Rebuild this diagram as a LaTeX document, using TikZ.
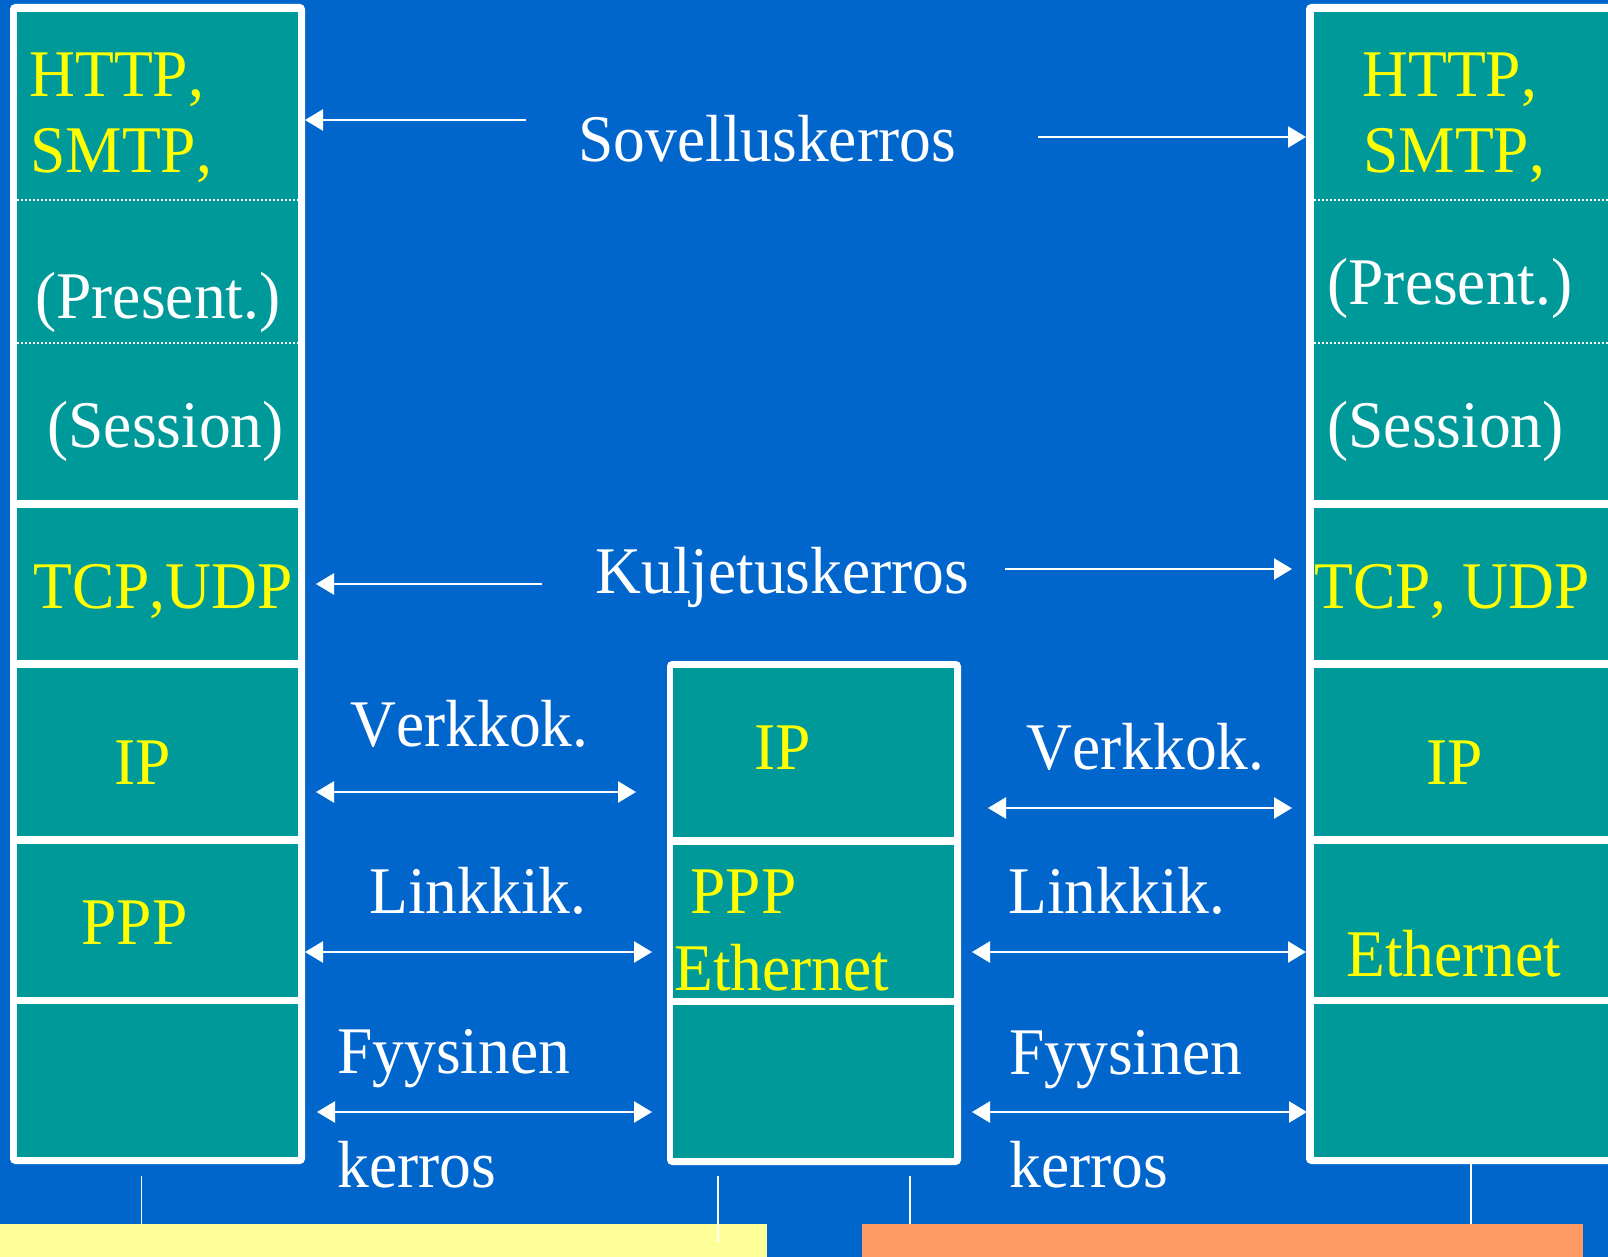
\documentclass[tikz,border=0pt]{standalone}
\usepackage{fontspec}
\setmainfont[Kerning=Off]{Liberation Serif}
\usetikzlibrary{arrows.meta}
\definecolor{bgblue}{RGB}{0,102,204}
\definecolor{tealc}{RGB}{0,153,153}
\definecolor{ylw}{RGB}{255,255,0}
\definecolor{barY}{RGB}{255,255,153}
\definecolor{barO}{RGB}{255,153,102}
\newcommand\tx[1]{\scalebox{1}[1.05]{#1}}
\begin{document}
\begin{tikzpicture}[x=0.5pt,y=-0.5pt,
  outerbox/.style={fill=white, rounded corners=2.5pt, inner sep=0pt, outer sep=0pt, anchor=north west},
  cell/.style={fill=tealc, inner sep=0pt, outer sep=0pt, anchor=north west},
  lbl/.style={font=\fontsize{31.75}{38}\selectfont, inner sep=0pt, anchor=base west, text=white},
  ylbl/.style={lbl, text=ylw},
  arr/.style={white, line width=1.25pt, -{Triangle[length=9pt,width=10.5pt]}},
  darr/.style={white, line width=1.25pt, {Triangle[length=9pt,width=10.5pt]}-{Triangle[length=9pt,width=10.5pt]}},
  tick/.style={white, line width=0.75pt},
  sep/.style={white, line width=0.6pt, dash pattern=on 1pt off 1pt}]
\useasboundingbox (0,0) rectangle (1608,1257);
\begin{scope}
\clip (0,0) rectangle (1608,1257);
\fill[bgblue] (0,0) rectangle (1608,1257);

% outer stacks
\node[outerbox, minimum width=147.5pt, minimum height=580pt] (Lbox) at (10,4) {};
\node[outerbox, minimum width=147pt, minimum height=252pt] (Mbox) at (667,661) {};
\node[outerbox, minimum width=160pt, minimum height=580pt] (Rbox) at (1306,4) {};

% left cells
\node[cell, minimum width=140.5pt, minimum height=244pt] (Lapp) at (17,12) {};
\node[cell, minimum width=140.5pt, minimum height=76pt] (Ltcp) at (17,508) {};
\node[cell, minimum width=140.5pt, minimum height=84pt] (Lip) at (17,668) {};
\node[cell, minimum width=140.5pt, minimum height=76.5pt] (Lppp) at (17,844) {};
\node[cell, minimum width=140.5pt, minimum height=76.5pt] (Lphy) at (17,1004) {};
% middle cells
\node[cell, minimum width=140.5pt, minimum height=84.5pt] (Mip) at (673,668) {};
\node[cell, minimum width=140.5pt, minimum height=76.5pt] (Mppp) at (673,845) {};
\node[cell, minimum width=140.5pt, minimum height=76.5pt] (Mphy) at (673,1005) {};
% right cells
\node[cell, minimum width=155pt, minimum height=244pt] (Rapp) at (1314,12) {};
\node[cell, minimum width=155pt, minimum height=76pt] (Rtcp) at (1314,508) {};
\node[cell, minimum width=155pt, minimum height=84pt] (Rip) at (1314,668) {};
\node[cell, minimum width=155pt, minimum height=76.5pt] (Rppp) at (1314,844) {};
\node[cell, minimum width=155pt, minimum height=76.5pt] (Rphy) at (1314,1004) {};

% dotted separators in application cells
\draw[sep] (17,200) -- (298,200);
\draw[sep] (17,343) -- (298,343);
\draw[sep] (1314,200) -- (1620,200);
\draw[sep] (1314,343) -- (1620,343);

% texts in cells
\node[ylbl] (t1) at (29,97) {\tx{HTTP,}};
\node[ylbl] (t2) at (30,173) {\tx{SMTP,}};
\node[lbl] (t3) at (35,319) {\tx{(Present.)}};
\node[lbl] (t4) at (47,448) {\tx{(Session)}};
\node[ylbl] (t5) at (33,608) {\tx{TCP,UDP}};
\node[ylbl] (t6) at (114,784) {\tx{IP}};
\node[ylbl] (t7) at (81,944) {\tx{PPP}};

\node[ylbl] (t8) at (754,769) {\tx{IP}};
\node[ylbl] (t9) at (690,913) {\tx{PPP}};
\node[ylbl] (t10) at (674,990) {\tx{Ethernet}};

\node[ylbl] (t11) at (1362,97) {\tx{HTTP,}};
\node[ylbl] (t12) at (1363,173) {\tx{SMTP,}};
\node[lbl] (t13) at (1327,305) {\tx{(Present.)}};
\node[lbl] (t14) at (1327,448) {\tx{(Session)}};
\node[ylbl] (t15) at (1314,608) {\tx{TCP, UDP}};
\node[ylbl] (t16) at (1426,784) {\tx{IP}};
\node[ylbl] (t17) at (1346,976) {\tx{Ethernet}};

% layer labels
\node[lbl] (sov) at (578,162) {\tx{Sovelluskerros}};
\node[lbl] (kul) at (595,593) {\tx{Kuljetuskerros}};
\node[lbl] (verL) at (350,746) {\tx{Verkkok.}};
\node[lbl] (verR) at (1026,769) {\tx{Verkkok.}};
\node[lbl] (linL) at (369,913) {\tx{Linkkik.}};
\node[lbl] (linR) at (1008,913) {\tx{Linkkik.}};
\node[lbl] (fyL) at (337,1073) {\tx{Fyysinen}};
\node[lbl] (fyR) at (1009,1074) {\tx{Fyysinen}};
\node[lbl] (keL) at (337,1187) {\tx{kerros}};
\node[lbl] (keR) at (1009,1187) {\tx{kerros}};

% arrow end points
\coordinate (sovA) at (526,120);
\coordinate (sovB) at (1038,137);
\coordinate (kulA) at (542,584);
\coordinate (kulAt) at (316,584);
\coordinate (kulB) at (1005,569);
\coordinate (kulBt) at (1292,569);
\coordinate (verLa) at (316,792);
\coordinate (verLb) at (636,792);
\coordinate (verRa) at (988,808);
\coordinate (verRb) at (1292,808);
\coordinate (linLa) at (305,952);
\coordinate (linLb) at (652,952);
\coordinate (linRa) at (972,952);
\coordinate (linRb) at (1306,952);
\coordinate (fyLa) at (317,1112);
\coordinate (fyLb) at (652,1112);
\coordinate (fyRa) at (972,1112);
\coordinate (fyRb) at (1307,1112);

\draw[arr] (sovA) -- (sovA -| Lbox.east);
\draw[arr] (sovB) -- (sovB -| Rbox.west);
\draw[arr] (kulA) -- (kulAt);
\draw[arr] (kulB) -- (kulBt);
\draw[darr] (verLa) -- (verLb);
\draw[darr] (verRa) -- (verRb);
\draw[darr] (linLa) -- (linLb);
\draw[darr] (linRa) -- (linRb);
\draw[darr] (fyLa) -- (fyLb);
\draw[darr] (fyRa) -- (fyRb);

% bottom bars
\node[fill=barY, inner sep=0pt, outer sep=0pt, anchor=north west, minimum width=383.5pt, minimum height=17pt] (barL) at (0,1224) {};
\node[fill=barO, inner sep=0pt, outer sep=0pt, anchor=north west, minimum width=360.5pt, minimum height=17pt] (barR) at (862,1224) {};

% ticks
\coordinate (k1) at (141.5,1176);
\coordinate (k2) at (718,1176);
\coordinate (k2e) at (718,1242);
\coordinate (k3) at (910,1176);
\coordinate (k4) at (1471,1164);
\draw[tick] (k1) -- (k1 |- barL.north);
\draw[tick] (k2) -- (k2e);
\draw[tick] (k3) -- (k3 |- barR.north);
\draw[tick] (k4) -- (k4 |- barR.north);
\end{scope}
\end{tikzpicture}
\end{document}
